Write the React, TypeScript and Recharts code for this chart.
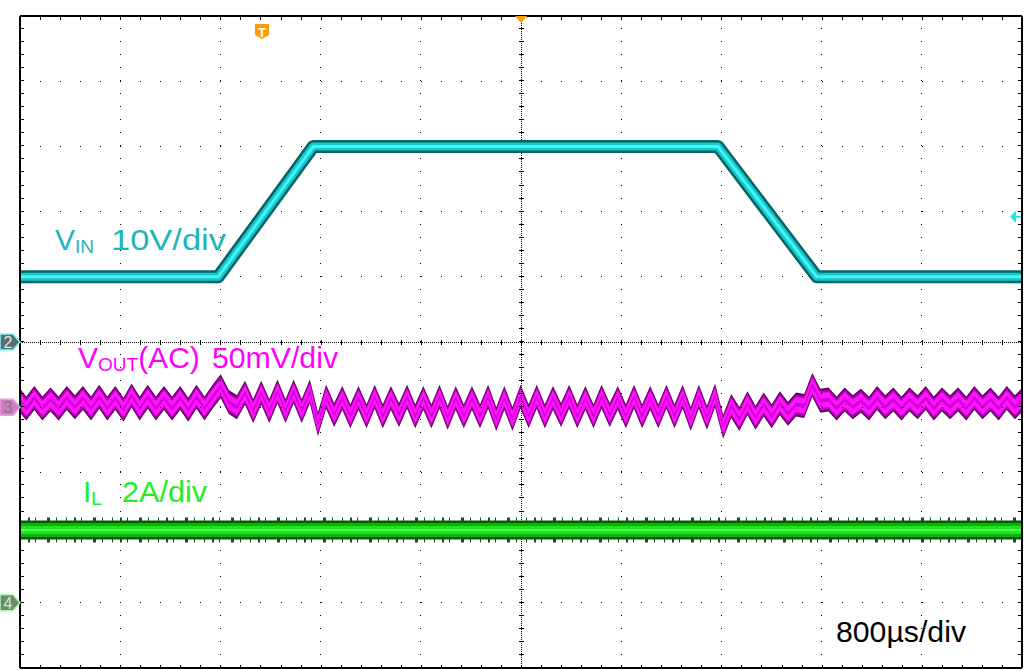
import React from "react";
import { ComposedChart, Line, Area, XAxis, YAxis, ReferenceLine, ReferenceDot } from "recharts";

// time base in µs relative to the trigger, 800 µs/div, 10 divisions
const T_LEFT = -1932;
const T_DIV = 800;

// CH2 VIN, 10 V/div, ground at screen centre
const VIN_T = [-1932, -350, 410, 3640, 4430, 6068];
const VIN_V = [10, 10, 30, 30, 10, 10];

// CH3 VOUT (AC), 50 mV/div, offset -1 div; ripple peaks / troughs, one every 64.7 µs
const VOUT_T0 = -1947;
const VOUT_DT = 64.7;
const VOUT_MV = [
  7, -1, 7, -1, 6, -1, 7, 0, 7, -1, 8, -1, 7, -2, 9, -1, 8, -1, 7, -1, 7, -2, 8, -1, 8,
  16, 4, 0, 11, -3, 11, -3, 12, -3, 12, -3, 12, -13, 8,
  -6, 7, -7, 7, -7, 8, -7, 7, -6, 8, -7, 7, -7, 8, -8, 7, -7, 7, -7, 8, -9, 7, -9, 8,
  -7, 8, -7, 7, -6, 8, -7, 7, -7, 8, -6, 7, -7, 8, -7, 7, -7, 8, -7, 8, -9, 8, -8, 9,
  -15, 1, -9, 3, -8, 2, -7, 3, -5, 2, 1, 17, 5,
  6, -1, 6, 0, 5, -1, 7, 0, 6, -1, 6, 0, 7, -1, 6, 0, 6, -1, 7, 0, 6, -1, 7, 0, 6,
];

// CH4 IL, 2 A/div, offset -4 div
const IL_T = [-1932, 6068];
const IL_A = [2.23, 2.23];

const TRIG_LEVEL_V = 19.2;

const vinData = VIN_T.map((t, i) => ({ t, y: VIN_V[i] / 10 }));
const voutData = VOUT_MV.map((mv, i) => ({ t: VOUT_T0 + i * VOUT_DT, y: -1 + mv / 50 }));
const ilData = IL_T.map((t, i) => ({ t, y: -4 + IL_A[i] / 2 }));

const T_RIGHT = T_LEFT + 10 * T_DIV;
const xMajor = [1, 2, 3, 4, 6, 7, 8, 9].map((k) => T_LEFT + k * T_DIV);
const yMajor = [-4, -3, -2, -1, 1, 2, 3, 4];
const xCenter = T_LEFT + 5 * T_DIV;
const PX_Y = 1 / 65.2; // one pixel in y divisions
const X_IN = 16; // ~2 px in µs
const band = (h: number) => (d: { y: number }) => [d.y - h * PX_Y, d.y + h * PX_Y];

const FONT = '"Liberation Sans", Arial, sans-serif';

const ax = { xAxisId: "b", yAxisId: "l" };
const lineCommon = {
  ...ax,
  type: "linear" as const,
  dataKey: "y",
  dot: false,
  activeDot: false,
  isAnimationActive: false,
  strokeLinejoin: "round" as const,
};
const areaCommon = {
  ...ax,
  type: "linear" as const,
  dot: false,
  activeDot: false,
  isAnimationActive: false,
  fillOpacity: 1,
  stroke: "none",
};

function chMarker(num: string, fill: string, edge: string, ink: string) {
  return (p: any) => {
    const { cx, cy } = p;
    const pts = `${cx - 20},${cy - 8} ${cx - 7},${cy - 8} ${cx},${cy} ${cx - 7},${cy + 8} ${cx - 20},${cy + 8}`;
    return (
      <g>
        <polygon points={pts} fill={fill} stroke={edge} strokeWidth={1.5} />
        <text x={cx - 12} y={cy + 6} fontSize={16} fontFamily={FONT} fill={ink} textAnchor="middle">
          {num}
        </text>
      </g>
    );
  };
}

const trigT = (p: any) => {
  const { cx, cy } = p;
  return (
    <g>
      <path d={`M${cx - 7},${cy + 8} h14 v11 l-7,4 l-7,-4 z`} fill="#ff9a00" />
      <text x={cx} y={cy + 21} fontSize={13} fontWeight="bold" fontFamily={FONT} fill="#fff" textAnchor="middle">
        T
      </text>
    </g>
  );
};

const posMark = (p: any) => {
  const { cx, cy } = p;
  return <polygon points={`${cx - 6},${cy} ${cx + 6},${cy} ${cx},${cy + 7}`} fill="#ff9a00" />;
};

const levelMark = (p: any) => {
  const { cx, cy } = p;
  return (
    <g>
      <polygon points={`${cx - 12},${cy} ${cx - 6},${cy - 6} ${cx - 6},${cy + 6}`} fill="#22e6e6" />
      <rect x={cx - 6} y={cy - 1} width={5} height={2} fill="#22e6e6" />
    </g>
  );
};

export default function App() {
  return (
    <div style={{ position: "absolute", left: 0, top: 0, width: 1024, height: 670, background: "#fff" }}>
      <ComposedChart width={1024} height={670} margin={{ top: 16, right: 2, bottom: 2, left: 20 }}>
        <XAxis xAxisId="b" type="number" dataKey="t" domain={[T_LEFT, T_RIGHT]} allowDataOverflow hide />
        <YAxis yAxisId="l" type="number" domain={[-5, 5]} allowDataOverflow hide />

        {/* graticule */}
        {xMajor.map((x) => (
          <ReferenceLine key={"vx" + x} {...ax} x={x} stroke="#000" strokeWidth={1} strokeDasharray="1 12.04" shapeRendering="crispEdges" />
        ))}
        {yMajor.map((y) => (
          <ReferenceLine key={"hy" + y} {...ax} y={y} stroke="#000" strokeWidth={1} strokeDasharray="1 19.04" shapeRendering="crispEdges" />
        ))}
        <ReferenceLine {...ax} x={xCenter} stroke="#000" strokeWidth={1} strokeDasharray="1 1" shapeRendering="crispEdges" />
        <ReferenceLine {...ax} x={xCenter} stroke="#000" strokeWidth={5} strokeDasharray="1 12.04" shapeRendering="crispEdges" />
        <ReferenceLine {...ax} y={0} stroke="#000" strokeWidth={1} strokeDasharray="1 1" shapeRendering="crispEdges" />
        <ReferenceLine {...ax} y={0} stroke="#000" strokeWidth={5} strokeDasharray="1 19.04" shapeRendering="crispEdges" />
        {/* ticks along the frame */}
        <ReferenceLine {...ax} x={T_LEFT + X_IN} stroke="#000" strokeWidth={3} strokeDasharray="1 12.04" shapeRendering="crispEdges" />
        <ReferenceLine {...ax} x={T_RIGHT - X_IN} stroke="#000" strokeWidth={3} strokeDasharray="1 12.04" shapeRendering="crispEdges" />
        <ReferenceLine {...ax} y={5 - 2 * PX_Y} stroke="#000" strokeWidth={3} strokeDasharray="1 19.04" shapeRendering="crispEdges" />
        <ReferenceLine {...ax} y={-5 + 2 * PX_Y} stroke="#000" strokeWidth={3} strokeDasharray="1 19.04" shapeRendering="crispEdges" />

        {/* VIN */}
        <Line {...lineCommon} data={vinData} stroke="#0b6262" strokeWidth={13} />
        <Line {...lineCommon} data={vinData} stroke="#12c8d0" strokeWidth={8} />
        <Line {...lineCommon} data={vinData} stroke="#4af2f2" strokeWidth={3} />

        {/* VOUT: persistence band of constant vertical height */}
        <Area {...areaCommon} data={voutData} dataKey={band(12)} fill="#5e005e" />
        <Area {...areaCommon} data={voutData} dataKey={band(10)} fill="#b400b4" />
        <Area {...areaCommon} data={voutData} dataKey={band(7.5)} fill="#ff14ff" />
        <Area {...areaCommon} data={voutData} dataKey={band(2)} fill="#d400d4" />

        {/* IL */}
        <Line {...lineCommon} data={ilData} stroke="#0a5a0a" strokeWidth={25} strokeDasharray="1 7 2 5 1 11 3 6 1 9" />
        <Line {...lineCommon} data={ilData} stroke="#0b5a0b" strokeWidth={19} />
        <Line {...lineCommon} data={ilData} stroke="#10b010" strokeWidth={14} />
        <Line {...lineCommon} data={ilData} stroke="#18e818" strokeWidth={8} />
        <Line {...lineCommon} data={ilData} stroke="#5cff5c" strokeWidth={2} />

        {/* frame */}
        <ReferenceLine {...ax} x={T_LEFT} stroke="#000" strokeWidth={2} />
        <ReferenceLine {...ax} x={T_RIGHT} stroke="#000" strokeWidth={2} />
        <ReferenceLine {...ax} y={5} stroke="#000" strokeWidth={2} />
        <ReferenceLine {...ax} y={-5} stroke="#000" strokeWidth={2} />

        <ReferenceDot {...ax} x={T_LEFT} y={0} r={0} ifOverflow="visible" shape={chMarker("2", "#5b6e6e", "#7ff8f8", "#d8e8e8")} />
        <ReferenceDot {...ax} x={T_LEFT} y={-1} r={0} ifOverflow="visible" shape={chMarker("3", "#cf7cc6", "#e6a0e0", "#7a7a7a")} />
        <ReferenceDot {...ax} x={T_LEFT} y={-4} r={0} ifOverflow="visible" shape={chMarker("4", "#6c8a6c", "#a8f8a8", "#b8f8b8")} />
        <ReferenceDot {...ax} x={0} y={5} r={0} ifOverflow="visible" shape={trigT} />
        <ReferenceDot {...ax} x={xCenter} y={5} r={0} ifOverflow="visible" shape={posMark} />
        <ReferenceDot {...ax} x={T_RIGHT} y={TRIG_LEVEL_V / 10} r={0} ifOverflow="visible" shape={levelMark} />
      </ComposedChart>

      <svg width={1024} height={670} style={{ position: "absolute", left: 0, top: 0, pointerEvents: "none" }} fontFamily={FONT}>
        <text x={55} y={250} fontSize={30} fill="#1fb6b8">
          V<tspan fontSize={19} dy={3}>IN</tspan>
        </text>
        <text x={111} y={250} fontSize={30} fill="#1fb6b8" textLength={115} lengthAdjust="spacingAndGlyphs">
          10V/div
        </text>
        <text x={78} y={368} fontSize={30} fill="#ff00ff">
          V<tspan fontSize={19} dy={3}>OUT</tspan>
          <tspan dy={-3}>(AC)</tspan>
        </text>
        <text x={212} y={368} fontSize={30} fill="#ff00ff" textLength={126} lengthAdjust="spacingAndGlyphs">
          50mV/div
        </text>
        <text x={83} y={502} fontSize={30} fill="#22ee22">
          I<tspan fontSize={19} dy={3}>L</tspan>
        </text>
        <text x={122} y={502} fontSize={30} fill="#22ee22" textLength={85} lengthAdjust="spacingAndGlyphs">
          2A/div
        </text>
        <text x={836} y={642} fontSize={30} fill="#000" textLength={130} lengthAdjust="spacingAndGlyphs">
          800µs/div
        </text>
      </svg>
    </div>
  );
}
